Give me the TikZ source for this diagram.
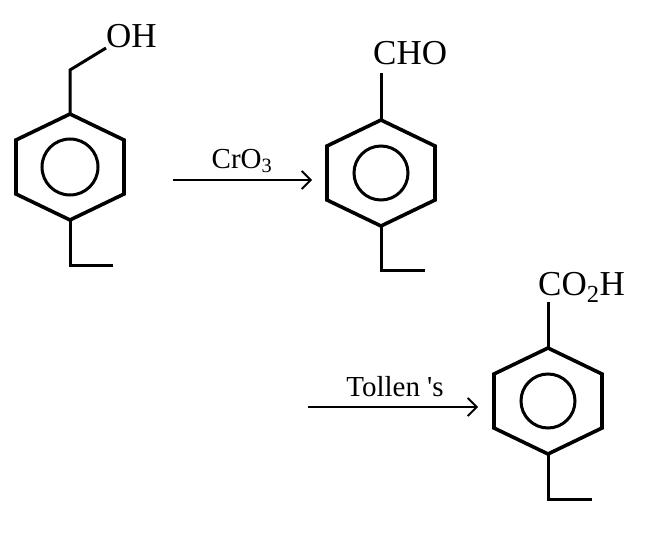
\documentclass[tikz,border=0pt]{standalone}
\usepackage{fontspec}
\setmainfont{Liberation Serif}
\usetikzlibrary{arrows.meta, positioning}

\tikzset{
    ringbond/.style={line width=3.6pt, line join=miter},
    aromatic/.style={line width=3pt},
    bond/.style={line width=3pt},
    group/.style={inner sep=0pt, anchor=base west, font=\fontsize{35}{40}\selectfont},
    reagent/.style={inner sep=0pt, anchor=base, font=\fontsize{29}{34}\selectfont},
    reaction/.style={line width=1.8pt, -{Straight Barb[length=9pt, width=18pt, line width=1.8pt]}}
}

\begin{document}
\begin{tikzpicture}[x=1pt, y=-1pt]
\useasboundingbox (0,0) rectangle (646,535);

% Alcohol
\begin{scope}[shift={(70,167)}]
\draw[ringbond] (0,-53) -- (54,-27) -- (54,27) -- (0,53) -- (-54,27) -- (-54,-27) -- cycle;
\draw[aromatic] (0,0) circle (28);
\coordinate (top1) at (0,-53);
\coordinate (bot1) at (0,53);
\end{scope}
\node[group] (oh) at (106,48) {OH};
\draw[bond] (top1) -- ++(0,-44) -- (oh.base west);
\draw[bond] (bot1) -- ++(0,45) -- ++(43,0);

% CrO3
\coordinate (a1) at (173,180);
\coordinate (b1) at (312,180);
\draw[reaction] (a1) -- (b1);
\node[reagent] (cro) at (242,168) {CrO\textsubscript{3}};

% Aldehyde
\begin{scope}[shift={(381,173)}]
\draw[ringbond] (0,-53) -- (54,-27) -- (54,27) -- (0,53) -- (-54,27) -- (-54,-27) -- cycle;
\draw[aromatic] (0,0) circle (27);
\coordinate (top2) at (0,-53);
\coordinate (bot2) at (0,53);
\end{scope}
\node[group] (cho) at (373,65) {CHO};
\draw[bond] (top2) -- ++(0,-47);
\draw[bond] (bot2) -- ++(0,44) -- ++(44,0);

% Tollen's
\coordinate (a2) at (308,407);
\coordinate (b2) at (478,407);
\draw[reaction] (a2) -- (b2);
\node[reagent] (tol) at (395,396) {Tollen \textquotesingle s};

% Acid
\begin{scope}[shift={(548,401)}]
\draw[ringbond] (0,-53) -- (54,-27) -- (54,27) -- (0,53) -- (-54,27) -- (-54,-27) -- cycle;
\draw[aromatic] (0,0) circle (27);
\coordinate (top3) at (0,-53);
\coordinate (bot3) at (0,53);
\end{scope}
\node[group] (acid) at (538,295) {CO\textsubscript{2}H};
\draw[bond] (top3) -- ++(0,-46);
\draw[bond] (bot3) -- ++(0,45) -- ++(44,0);
\end{tikzpicture}
\end{document}
